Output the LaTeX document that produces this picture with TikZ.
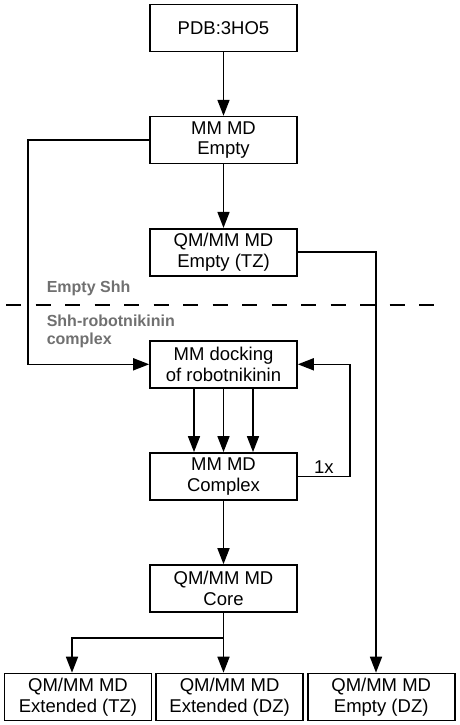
\documentclass[tikz,border=0pt]{standalone}
\usepackage{tikz}
\usepackage{xcolor}
\usepackage{fontspec}
\setmainfont{Liberation Sans}
\usetikzlibrary{chains,positioning,arrows.meta}

\definecolor{labelgray}{RGB}{112,112,112}

\begin{document}
\begin{tikzpicture}[x=1pt,y=1pt,>={Triangle[length=16pt,width=12pt]}]
\useasboundingbox (0,0) rectangle (459,-725);

\tikzstyle{every path}=[line width=1.6pt]
\tikzstyle{stepbox}=[draw,line width=1.6pt,minimum width=147pt,minimum height=47pt,
  inner sep=1pt,align=center,font=\fontsize{18.5}{20.5}\selectfont]
\tikzstyle{phase}=[text=labelgray,align=left,inner sep=0pt,
  font=\fontsize{16}{18}\selectfont\bfseries]

%% Main column
\begin{scope}[start chain=1 going below,node distance=63.5pt]
    \node (pdb) [on chain=1,stepbox] at (223.5,-28) {PDB:3HO5};
    \node (mmempty) [on chain=1,stepbox] {MM MD\\Empty};
    \node (qmtz) [on chain=1,stepbox] {QM/MM MD\\Empty (TZ)};
    \node (dock) [on chain=1,stepbox] {MM docking\\of robotnikinin};
    \node (complex) [on chain=1,stepbox] {MM MD\\Complex};
    \node (core) [on chain=1,stepbox] {QM/MM MD\\Core};
\end{scope}

%% Bottom row
\begin{scope}[start chain=2 going right,node distance=3pt]
    \node (exttz) [on chain=2,stepbox] at (78,-697) {QM/MM MD\\Extended (TZ)};
    \node (extdz) [on chain=2,stepbox] {QM/MM MD\\Extended (DZ)};
    \node (emptydz) [on chain=2,stepbox] {QM/MM MD\\Empty (DZ)};
\end{scope}

%% Phase labels and separator
\node (emptylbl) [phase,anchor=west] at (46,-288) {Empty Shh};
\node (complexlbl) [phase,anchor=west] at (46,-331) {Shh-robotnikinin\\complex};
\coordinate (sepl) at (6,-305);
\coordinate (sepr) at (434,-305);
\draw [dash pattern=on 15pt off 14.5pt] (sepl) -- (sepr);

%% Rails
\coordinate (leftrail) at (28,0);
\coordinate (rightrail) at (376,0);
\coordinate (looprail) at (350,0);
\coordinate (branchrail) at (72,0);
\coordinate (branch) at ([yshift=-25pt]core.south);

%% Connectors
\draw [->] (pdb) -- (mmempty);
\draw [->] (mmempty) -- (qmtz);
\draw [->] (mmempty.west) -- (mmempty.west -| leftrail) |- (dock.west);
\draw [->] (qmtz.east) -| (rightrail |- emptydz.north);
\foreach \dx in {-29.5,0,29.5}
    \draw [->] ([xshift=\dx pt]dock.south) -- ([xshift=\dx pt]complex.north);
\draw [->] (complex.east) -- node [above,font=\fontsize{18.5}{20.5}\selectfont,inner sep=2pt] {1x}
    (complex.east -| looprail) |- (dock.east);
\draw [->] (complex) -- (core);
\draw [->] (core.south) -- (core.south |- extdz.north);
\draw [->] (branch) -| (branchrail |- exttz.north);
\end{tikzpicture}
\end{document}
